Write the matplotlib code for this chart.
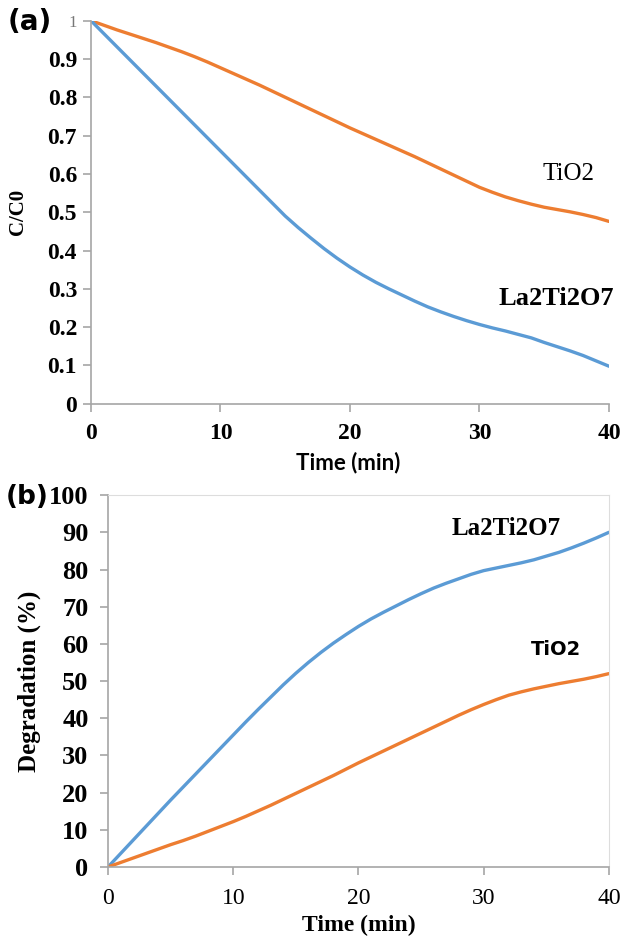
import numpy as np
import matplotlib
matplotlib.use("Agg")
import matplotlib.pyplot as plt

# time axis (min) and values
time = list(range(0, 41))

cc0_tio2 = [1.000, 0.988, 0.976, 0.965, 0.954, 0.943, 0.931, 0.919, 0.906, 0.892,
            0.877, 0.862, 0.847, 0.832, 0.816, 0.800, 0.784, 0.768, 0.752, 0.736,
            0.720, 0.705, 0.690, 0.675, 0.660, 0.645, 0.629, 0.613, 0.597, 0.581,
            0.565, 0.552, 0.540, 0.530, 0.521, 0.513, 0.507, 0.501, 0.494, 0.486,
            0.476]
cc0_la = [1.000, 0.966, 0.932, 0.898, 0.864, 0.830, 0.796, 0.762, 0.728, 0.694,
          0.660, 0.626, 0.592, 0.558, 0.524, 0.490, 0.460, 0.432, 0.405, 0.380,
          0.357, 0.336, 0.317, 0.300, 0.284, 0.268, 0.253, 0.240, 0.228, 0.217,
          0.207, 0.198, 0.190, 0.181, 0.172, 0.160, 0.149, 0.138, 0.126, 0.112,
          0.098]

deg_la = [0.0, 3.6, 7.2, 10.8, 14.4, 18.0, 21.5, 25.0, 28.5, 32.0,
          35.5, 39.0, 42.4, 45.7, 49.0, 52.1, 55.0, 57.7, 60.2, 62.5,
          64.7, 66.7, 68.5, 70.2, 71.9, 73.5, 75.0, 76.3, 77.5, 78.7,
          79.7, 80.4, 81.1, 81.8, 82.6, 83.6, 84.6, 85.8, 87.1, 88.5,
          90.0]
deg_tio2 = [0.0, 1.2, 2.4, 3.6, 4.8, 6.0, 7.1, 8.3, 9.6, 10.9,
            12.2, 13.6, 15.1, 16.6, 18.2, 19.8, 21.4, 23.0, 24.6, 26.3,
            28.0, 29.6, 31.2, 32.8, 34.4, 36.0, 37.6, 39.2, 40.8, 42.3,
            43.7, 45.0, 46.2, 47.1, 47.9, 48.6, 49.3, 49.9, 50.5, 51.2,
            52.0]

x_ticks = [0, 10, 20, 30, 40]
a_yticks = [0, 0.1, 0.2, 0.3, 0.4, 0.5, 0.6, 0.7, 0.8, 0.9, 1.0]
a_ylabels = ["0", "0.1", "0.2", "0.3", "0.4", "0.5", "0.6", "0.7", "0.8", "0.9", "1"]
b_yticks = [0, 10, 20, 30, 40, 50, 60, 70, 80, 90, 100]

blue = "#5B9BD5"
orange = "#ED7D31"
grey = "#A6A6A6"
serif = "Liberation Serif"

fig = plt.figure(figsize=(6.23, 9.39), dpi=100)

# ---------------- panel (a) ----------------
ax1 = fig.add_axes([0.146, 0.570, 0.8315, 0.408])
ax1.plot(time, cc0_tio2, color=orange, lw=2.4, solid_capstyle="round")
ax1.plot(time, cc0_la, color=blue, lw=2.4, solid_capstyle="round")
ax1.set_xlim(0, 40)
ax1.set_ylim(0, 1)
ax1.set_xticks(x_ticks)
ax1.set_yticks(a_yticks)
ax1.set_yticklabels(a_ylabels)
for s in ["top", "right"]:
    ax1.spines[s].set_visible(False)
for s in ["left", "bottom"]:
    ax1.spines[s].set_color(grey)
    ax1.spines[s].set_linewidth(1.2)
ax1.tick_params(axis="both", direction="out", length=6, width=1.2, color=grey)
ax1.tick_params(axis="y", pad=4)
ax1.tick_params(axis="x", pad=8)
for lab in ax1.get_xticklabels() + ax1.get_yticklabels():
    lab.set_fontfamily(serif)
    lab.set_fontweight("bold")
    lab.set_fontsize(17)
top = ax1.get_yticklabels()[-1]
top.set_fontweight("normal")
top.set_fontsize(12)
top.set_color("#777777")
ax1.set_xlabel("Time (min)", fontfamily="Lato", fontweight="bold", fontsize=16, va="center")
ax1.xaxis.set_label_coords(0.496, -0.154)
ax1.set_ylabel("C/C0", fontfamily=serif, fontweight="bold", fontsize=15, va="center")
ax1.yaxis.set_label_coords(-0.14, 0.5)
ax1.text(36.9, 0.60, "TiO2", fontfamily=serif, fontsize=18, ha="center", va="center")
ax1.text(31.5, 0.276, "La2Ti2O7", fontfamily=serif, fontweight="bold", fontsize=19,
         ha="left", va="center", clip_on=False)
fig.text(0.012, 0.977, "(a)", fontfamily="DejaVu Sans", fontweight="bold", fontsize=20,
         ha="left", va="center")

# ---------------- panel (b) ----------------
ax2 = fig.add_axes([0.1734, 0.0767, 0.804, 0.396])
ax2.plot(time, deg_la, color=blue, lw=2.4, solid_capstyle="round")
ax2.plot(time, deg_tio2, color=orange, lw=2.4, solid_capstyle="round")
ax2.set_xlim(0, 40)
ax2.set_ylim(0, 100)
ax2.set_xticks(x_ticks)
ax2.set_yticks(b_yticks)
for s in ["top", "right"]:
    ax2.spines[s].set_color("#DDDDDD")
    ax2.spines[s].set_linewidth(0.8)
for s in ["left", "bottom"]:
    ax2.spines[s].set_color(grey)
    ax2.spines[s].set_linewidth(1.2)
ax2.tick_params(axis="both", direction="out", length=6, width=1.2, color=grey)
ax2.tick_params(axis="y", pad=8)
ax2.tick_params(axis="x", pad=9)
for lab in ax2.get_yticklabels():
    lab.set_fontfamily(serif)
    lab.set_fontweight("bold")
    lab.set_fontsize(19)
for lab in ax2.get_xticklabels():
    lab.set_fontfamily(serif)
    lab.set_fontsize(17)
ax2.set_xlabel("Time (min)", fontfamily=serif, fontweight="bold", fontsize=17, va="center")
ax2.xaxis.set_label_coords(0.5, -0.158)
ax2.set_ylabel("Degradation (%)", fontfamily=serif, fontweight="bold", fontsize=18, va="center")
ax2.yaxis.set_label_coords(-0.158, 0.5)
ax2.text(31.8, 91, "La2Ti2O7", fontfamily=serif, fontweight="bold", fontsize=18,
         ha="center", va="center")
ax2.text(35.8, 58.5, "TiO2", fontfamily="DejaVu Sans", fontweight="bold", fontsize=14,
         ha="center", va="center")
fig.text(0.010, 0.471, "(b)", fontfamily="DejaVu Sans", fontweight="bold", fontsize=19,
         ha="left", va="center")

fig.savefig("out.png", dpi=100)
